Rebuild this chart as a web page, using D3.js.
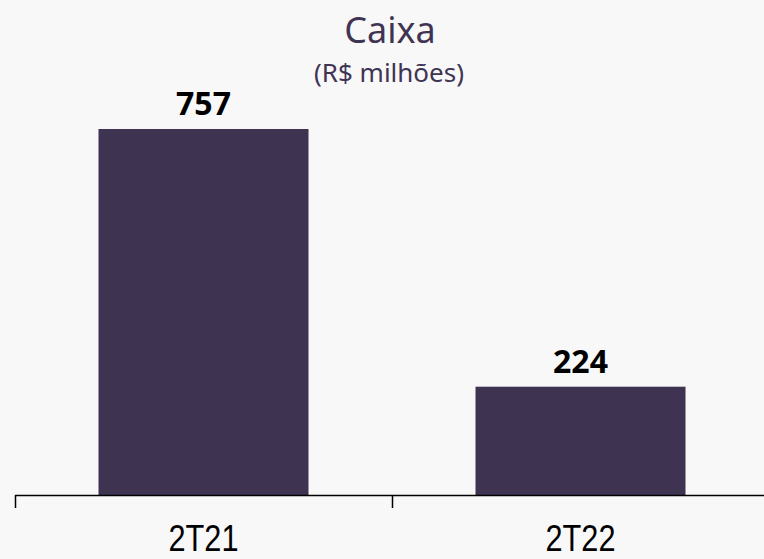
<!DOCTYPE html>
<html>
<head>
<meta charset="utf-8">
<script src="https://cdn.jsdelivr.net/npm/d3@7"></script>
<style>
  body { margin: 0; background: #f8f8f8; }
  svg { display: block; font-family: "Noto Sans", sans-serif; }
</style>
</head>
<body>
<script>
// data
const categories = ['2T21', '2T22'];
const values = [757, 224];
const valueLabels = ['757', '224'];

const width = 764;
const height = 559;
const baseY = 495;
const purple = '#3e3350';

const svg = d3.select('body').append('svg')
  .attr('width', width)
  .attr('height', height);

svg.append('rect').attr('width', width).attr('height', height).attr('fill', '#f8f8f8');

// x: one band per quarter, ticks sit on band edges
const x = d3.scaleBand()
  .domain(categories)
  .range([15, 769])
  .padding(0);

const y = d3.scaleLinear()
  .domain([0, 757])
  .range([baseY, 129]);

const barW = x.bandwidth() * 0.557;

// title
svg.append('text')
  .attr('x', 390).attr('y', 43)
  .attr('text-anchor', 'middle')
  .attr('fill', '#3f3452')
  .style('font-size', '36px')
  .text('Caixa');

svg.append('text')
  .attr('x', 389).attr('y', 82)
  .attr('text-anchor', 'middle')
  .attr('fill', '#3f3452')
  .style('font-size', '26px')
  .text('(R$ milhões)');

// bars
svg.selectAll('.bar')
  .data(values)
  .enter().append('rect')
  .attr('class', 'bar')
  .attr('x', (d, i) => x(categories[i]) + (x.bandwidth() - barW) / 2)
  .attr('y', (d) => y(d))
  .attr('width', barW)
  .attr('height', (d) => baseY - y(d))
  .attr('fill', purple);

// value labels
svg.selectAll('.val')
  .data(values)
  .enter().append('text')
  .attr('class', 'val')
  .attr('x', (d, i) => x(categories[i]) + x.bandwidth() / 2)
  .attr('y', (d) => y(d) - 14)
  .attr('text-anchor', 'middle')
  .style('font-size', '32px')
  .style('font-weight', 'bold')
  .attr('fill', '#000')
  .text((d, i) => valueLabels[i]);

// axis line + ticks at band starts
svg.append('line')
  .attr('x1', 15).attr('x2', width)
  .attr('y1', baseY + 0.5).attr('y2', baseY + 0.5)
  .attr('stroke', '#000').attr('stroke-width', 1.5);

svg.selectAll('.tick')
  .data(categories)
  .enter().append('line')
  .attr('class', 'tick')
  .attr('x1', (d) => x(d) + 0.5).attr('x2', (d) => x(d) + 0.5)
  .attr('y1', baseY).attr('y2', 508)
  .attr('stroke', '#000').attr('stroke-width', 1.5);

svg.selectAll('.cat')
  .data(categories)
  .enter().append('text')
  .attr('class', 'cat')
  .attr('x', (d) => x(d) + x.bandwidth() / 2)
  .attr('y', 551)
  .attr('text-anchor', 'middle')
  .attr('textLength', 70)
  .attr('lengthAdjust', 'spacingAndGlyphs')
  .style('font-family', '"Liberation Sans", sans-serif')
  .style('font-size', '37px')
  .attr('fill', '#000')
  .text((d) => d);
</script>
</body>
</html>
